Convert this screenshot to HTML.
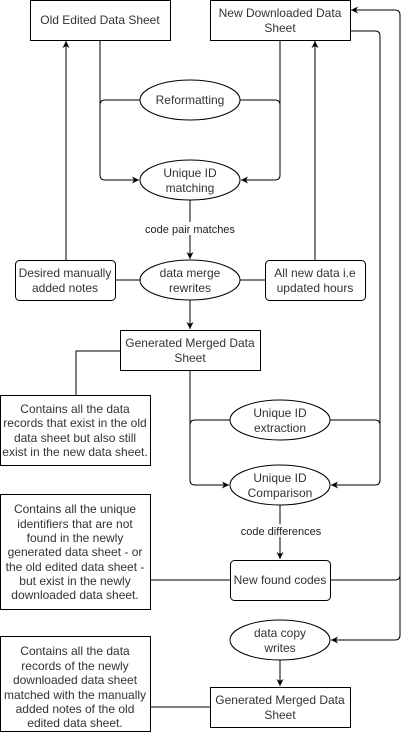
<!DOCTYPE html>
<html><head><meta charset="utf-8"><style>
html,body{margin:0;padding:0;background:#fff}
svg{display:block}
text{font-family:"Liberation Sans",sans-serif;font-size:12px;fill:#333;text-anchor:middle}
.s{font-size:11px;fill:#222}
</style></head><body>
<svg width="409" height="732" viewBox="0 0 409 732" xmlns="http://www.w3.org/2000/svg">
<defs><marker id="a" markerWidth="8" markerHeight="8" refX="7" refY="4" orient="auto" markerUnits="userSpaceOnUse"><path d="M0,0.5 L7,4 L0,7.5 L2,4z" fill="#000"/></marker></defs>
<g fill="none" stroke="#000" stroke-width="1">
<path d="M100,40 V175 Q100,180 105,180 H139" marker-end="url(#a)"/>
<path d="M140,100 H105 Q100,100 100,105"/>
<path d="M280,40 V175 Q280,180 275,180 H241" marker-end="url(#a)"/>
<path d="M240,100 H275 Q280,100 280,105"/>
<path d="M190,200 V259" marker-end="url(#a)"/>
<path d="M66,260 V41" marker-end="url(#a)"/>
<path d="M315,260 V41" marker-end="url(#a)"/>
<path d="M116,280 H140 M240,280 H266"/>
<path d="M190,300 V329" marker-end="url(#a)"/>
<path d="M120,351 H76 V395"/>
<path d="M190,370 V480 Q190,485 195,485 H229" marker-end="url(#a)"/>
<path d="M230,420 H195 Q190,420 190,425"/>
<path d="M350,31 H375 Q380,31 380,36 V480 Q380,485 375,485 H331" marker-end="url(#a)"/>
<path d="M330,420 H375 Q380,420 380,425"/>
<path d="M280,505 V559" marker-end="url(#a)"/>
<path d="M150,580 H230"/>
<path d="M330,580 H395 Q400,580 400,575 V15 Q400,10 395,10 H351" marker-end="url(#a)"/>
<path d="M400,575 V635 Q400,640 395,640 H331" marker-end="url(#a)"/>
<path d="M280,660 V686" marker-end="url(#a)"/>
<path d="M150,707 H210"/>
<rect x="30.5" y="0.5" width="140" height="40" fill="#fff"/>
<rect x="210.5" y="0.5" width="140" height="40" fill="#fff"/>
<ellipse cx="190" cy="100" rx="50" ry="20" fill="#fff"/>
<ellipse cx="190" cy="180" rx="50" ry="20" fill="#fff"/>
<ellipse cx="190" cy="280" rx="50" ry="20" fill="#fff"/>
<rect x="15.5" y="260.5" width="100" height="40" rx="4" fill="#fff"/>
<rect x="265.5" y="260.5" width="100" height="40" rx="4" fill="#fff"/>
<rect x="120.5" y="330.5" width="140" height="40" fill="#fff"/>
<rect x="0.5" y="395.5" width="150" height="70" fill="#fff"/>
<ellipse cx="280" cy="420" rx="50" ry="20" fill="#fff"/>
<ellipse cx="280" cy="485" rx="50" ry="20" fill="#fff"/>
<rect x="0.5" y="494.5" width="150" height="115" fill="#fff"/>
<rect x="230.5" y="560.5" width="100" height="40" rx="4" fill="#fff"/>
<ellipse cx="280" cy="640" rx="50" ry="20" fill="#fff"/>
<rect x="0.5" y="636.5" width="150" height="95" fill="#fff"/>
<rect x="210.5" y="687.5" width="140" height="40" fill="#fff"/>
</g>
<rect x="145" y="222" width="92" height="13" fill="#fff"/>
<rect x="240" y="524" width="82" height="13" fill="#fff"/>
<text x="100" y="24">Old Edited Data Sheet</text>
<text x="280" y="17">New Downloaded Data</text><text x="280" y="32">Sheet</text>
<text x="190" y="104">Reformatting</text>
<text x="190" y="177">Unique ID</text><text x="190" y="192">matching</text>
<text class="s" x="190" y="233">code pair matches</text>
<text x="190" y="277">data merge</text><text x="190" y="292">rewrites</text>
<text x="65" y="277">Desired manually</text><text x="65" y="292">added notes</text>
<text x="315" y="277">All new data i.e</text><text x="315" y="292">updated hours</text>
<text x="190" y="347">Generated Merged Data</text><text x="190" y="362">Sheet</text>
<text x="75" y="413">Contains all the data</text><text x="75" y="427">records that exist in the old</text><text x="75" y="442">data sheet but also still</text><text x="75" y="456">exist in the new data sheet.</text>
<text x="280" y="417">Unique ID</text><text x="280" y="432">extraction</text>
<text x="280" y="482">Unique ID</text><text x="280" y="497">Comparison</text>
<text class="s" x="281" y="535">code differences</text>
<text x="280" y="584">New found codes</text>
<text x="75" y="513">Contains all the unique</text><text x="75" y="528">identifiers that are not</text><text x="75" y="542">found in the newly</text><text x="75" y="556">generated data sheet - or</text><text x="75" y="571">the old edited data sheet -</text><text x="75" y="585">but exist in the newly</text><text x="75" y="599">downloaded data sheet.</text>
<text x="280" y="637">data copy</text><text x="280" y="652">writes</text>
<text x="75" y="655">Contains all the data</text><text x="75" y="670">records of the newly</text><text x="75" y="684">downloaded data sheet</text><text x="75" y="699">matched with the manually</text><text x="75" y="713">added notes of the old</text><text x="75" y="727">edited data sheet.</text>
<text x="280" y="704">Generated Merged Data</text><text x="280" y="719">Sheet</text>
</svg>
</body></html>
